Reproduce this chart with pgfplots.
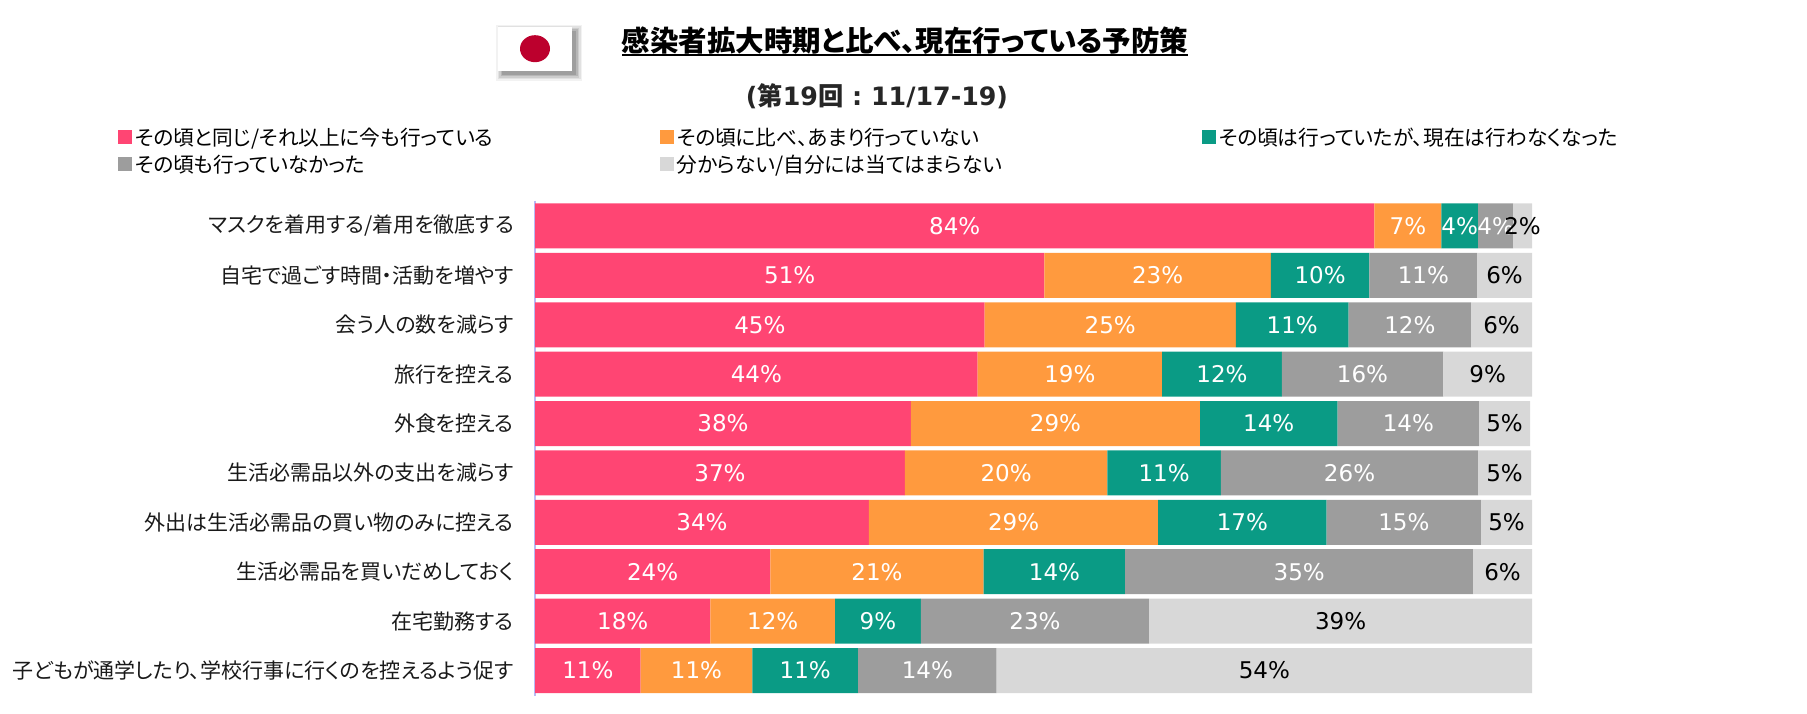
\documentclass[border=0pt]{standalone}
\usepackage{fontspec}
\usepackage{pgfplots}
\pgfplotsset{compat=1.18}
\setmainfont{DejaVu Sans}
\newfontfamily\cjk[RawFeature=+palt]{Noto Sans CJK JP}
\definecolor{cPink}{HTML}{FF4573}
\definecolor{cOrange}{HTML}{FF9A3E}
\definecolor{cTeal}{HTML}{0A9B85}
\definecolor{cGray}{HTML}{9D9D9D}
\definecolor{cLight}{HTML}{D8D8D8}
\definecolor{cFlag}{HTML}{BC002D}
\definecolor{cAxis}{HTML}{B9B9F5}
\newcommand{\legtext}[1]{\makebox[519pt][l]{\cjk\fontsize{20.7}{24}\selectfont #1}}
\pgfplotsset{
  squarekey/.style={legend image code/.code={
    \fill[#1] (0pt,-7pt) rectangle (14pt,7pt);}},
}
\begin{document}
\begin{tikzpicture}[x=1pt,y=1pt]
\path[use as bounding box] (0,0) rectangle (1807,714);
% flag
\foreach \o/\s in {0.05/6,0.07/4.5,0.09/3,0.11/1.5,0.13/0}{
  \fill[black,opacity=\o] (498+4-\s,714-71-4-\s) rectangle (572+4+\s,714-27-4+\s);
}
\fill[white] (498,643) rectangle (572,687);
\fill[cFlag] (535,665.3) ellipse [x radius=15,y radius=13.5];
% title
\node[font=\cjk\bfseries\fontsize{28.5}{32}\selectfont,anchor=center] at (905,673) {感染者拡大時期と比べ、現在行っている予防策};
\draw[black,line width=1.6pt] (622,659) -- (1188,659);
\node[font=\bfseries\fontsize{25.3}{30}\selectfont,text=black!85,anchor=center] at (877,618) {(\cjk\bfseries 第\normalfont\bfseries 19\cjk\bfseries 回\normalfont\bfseries\ :\ 11/17-19)};
\begin{axis}[
  at={(535pt,18pt)}, anchor=south west,
  scale only axis, width=997pt, height=495.5pt,
  xbar stacked, reverse stacked plots=false, bar width=45pt,
  xmin=0, xmax=100,
  ymin=-0.516, ymax=9.516, y dir=reverse,
  axis x line=none,
  axis y line*=left,
  y axis line style={color=cAxis,-,line width=2pt},
  major tick length=0pt,
  ytick={0,...,9},
  yticklabels={
    マスクを着用する/着用を徹底する,
    自宅で過ごす時間・活動を増やす,
    会う人の数を減らす,
    旅行を控える,
    外食を控える,
    生活必需品以外の支出を減らす,
    外出は生活必需品の買い物のみに控える,
    生活必需品を買いだめしておく,
    在宅勤務する,
    子どもが通学したり、学校行事に行くのを控えるよう促す},
  yticklabel style={font=\cjk\fontsize{21}{24}\selectfont,text=black!90,inner sep=0pt,xshift=-21pt},
  point meta=explicit symbolic,
  nodes near coords={\pgfplotspointmeta\%},
  nodes near coords style={font=\fontsize{23}{26}\selectfont,text=white,inner sep=0pt},
  legend columns=3,
  legend style={draw=none,fill=none,at={(axis description cs:-0.4183,1.1)},anchor=west,inner sep=0pt,
    row sep=8pt,nodes={inner sep=0pt},
    /tikz/every odd column/.append style={column sep=2.5pt},
    /tikz/every even column/.append style={column sep=6.5pt},
    cells={anchor=west}},
]
\addplot[fill=cPink,draw=none,squarekey=cPink] coordinates {
  (84.2,0)[84] (51.1,1)[51] (45.1,2)[45] (44.4,3)[44] (37.7,4)[38]
  (37.1,5)[37] (33.5,6)[34] (23.6,7)[24] (17.6,8)[18] (10.6,9)[11]};
\addplot[fill=cOrange,draw=none,squarekey=cOrange] coordinates {
  (6.7,0)[7] (22.7,1)[23] (25.2,2)[25] (18.5,3)[19] (29.0,4)[29]
  (20.3,5)[20] (29.0,6)[29] (21.4,7)[21] (12.5,8)[12] (11.2,9)[11]};
\addplot[fill=cTeal,draw=none,squarekey=cTeal] coordinates {
  (3.7,0)[4] (9.9,1)[10] (11.3,2)[11] (12.0,3)[12] (13.8,4)[14]
  (11.4,5)[11] (16.9,6)[17] (14.2,7)[14] (8.6,8)[9] (10.6,9)[11]};
\addplot[fill=cGray,draw=none,squarekey=cGray] coordinates {
  (3.5,0)[4] (10.8,1)[11] (12.3,2)[12] (16.2,3)[16] (14.2,4)[14]
  (25.8,5)[26] (15.5,6)[15] (34.9,7)[35] (22.9,8)[23] (13.9,9)[14]};
\addplot[fill=cLight,draw=none,squarekey=cLight,nodes near coords style={text=black}] coordinates {
  (1.9,0)[2] (5.5,1)[6] (6.1,2)[6] (8.9,3)[9] (5.1,4)[5]
  (5.3,5)[5] (5.1,6)[5] (5.9,7)[6] (38.4,8)[39] (53.7,9)[54]};
\legend{\legtext{その頃と同じ/それ以上に今も行っている},\legtext{その頃に比べ、あまり行っていない},\legtext{その頃は行っていたが、現在は行わなくなった},\legtext{その頃も行っていなかった},\legtext{分からない/自分には当てはまらない}}
\end{axis}
\end{tikzpicture}
\end{document}
